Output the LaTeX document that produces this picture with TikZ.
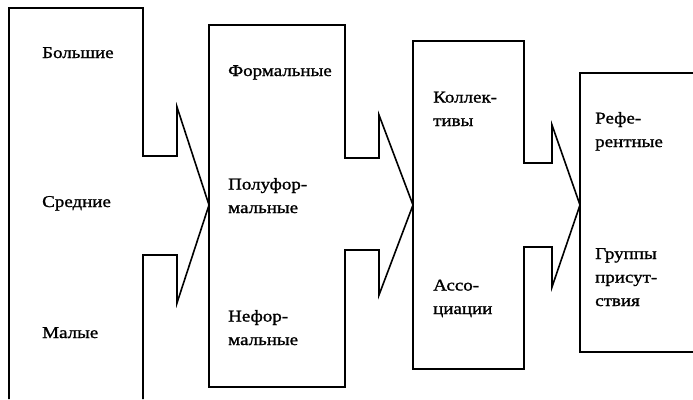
\documentclass[tikz,border=0pt]{standalone}
\usepackage{fontspec}
\setmainfont{Liberation Serif}[FakeStretch=1.15,FakeBold=1.2]
\tikzset{
  lbl/.style={anchor=base west,inner sep=0pt,align=left,font=\fontsize{16.5}{23.5}\selectfont},
  wall/.style={line width=1.6pt,line join=miter}
}
\begin{document}
\begin{tikzpicture}[x=1pt,y=-1pt]
    \useasboundingbox (0,0) rectangle (693,399);
    \draw[wall] (9,399)--(9,8)--(143,8)--(143,156)--(177,156)--(177,107)--(209,205)--(177,303)--(177,255)--(143,255)--(143,399); %1
    \draw[wall] (345,25)--(345,158)--(379,158)--(379,115)--(413,205)--(379,295)--(379,250)--(345,250)--(345,387)--(209,387)--(209,25)--cycle; %2
    \draw[line width=2.4pt] (209,25)--(209,387); %2 left edge
    \draw[wall] (524,41)--(524,163)--(552,163)--(552,125)--(580,205)--(552,287)--(552,247)--(524,247)--(524,369)--(413,369)--(413,41)--cycle; %3
    \draw[wall] (693,73)--(580,73)--(580,352)--(693,352); %4
    % base = baseline of the last line
    \node[lbl] (bolshie) at (42,58) {Большие};
    \node[lbl] (srednie) at (42,207) {Средние};
    \node[lbl] (malye) at (42,338) {Малые};
    \node[lbl] (formal) at (228,76) {Формальные};
    \node[lbl] (poluformal) at (228,213) {Полуфор-\\мальные};
    \node[lbl] (neformal) at (228,345) {Нефор-\\мальные};
    \node[lbl] (kollektivy) at (433,126) {Коллек-\\тивы};
    \node[lbl] (associacii) at (433,314) {Ассо-\\циации};
    \node[lbl] (referent) at (595,147) {Рефе-\\рентные};
    \node[lbl] (prisut) at (595,306) {Группы\\присут-\\ствия};
\end{tikzpicture}
\end{document}
